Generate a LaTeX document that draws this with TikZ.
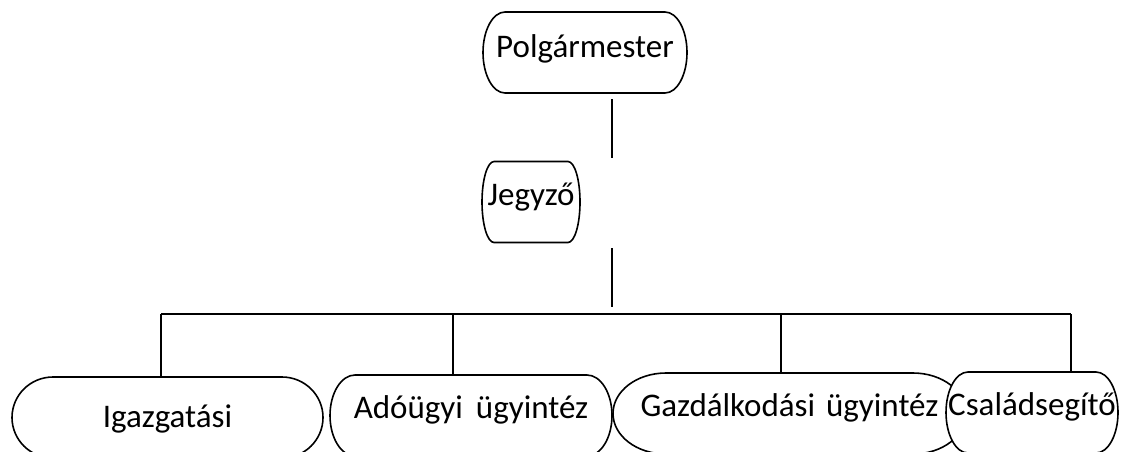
\documentclass[tikz,border=0pt]{standalone}
\usepackage{fontspec}
\setmainfont{Carlito}
\usetikzlibrary{backgrounds}

\newcommand{\ovalframe}[2]{%
\draw [black, line width=1.6pt, fill=white] ([xshift=#2pt]#1.north west) -- ([xshift=-#2pt]#1.north east)
  arc [start angle=90, end angle=-90, x radius=#2pt, y radius=40.5pt]
  -- ([xshift=#2pt]#1.south west)
  arc [start angle=270, end angle=90, x radius=#2pt, y radius=40.5pt] -- cycle;}

\begin{document}
\begin{tikzpicture}[x=1pt, y=1pt, line width=1.6pt]
\tikzstyle{unit}=[font=\fontsize{33}{40}\selectfont, inner sep=0pt, outer sep=0pt, minimum height=81pt, text height=24pt]
\useasboundingbox (0,0) rectangle (1123,-451);
\node [unit, minimum width=204pt, text depth=15pt] (polg) at (585,-52.5) {Polgármester};
\node [unit, minimum width=98pt, text depth=18pt] (jegy) at (531,-202) {Jegyző};
\node [unit, minimum width=311pt, text depth=5pt] (igaz) at (167.5,-417.5) {Igazgatási};
\node [unit, minimum width=282pt, text depth=19pt] (ado) at (471,-415.5) {Adóügyi\hspace{13pt}ügyintéz};
\node [unit, minimum width=353pt, text depth=19pt] (gazd) at (789.5,-413.5) {Gazdálkodási\hspace{11pt}ügyintéz};
\node [unit, minimum width=172pt, text depth=19pt] (csal) at (1032,-412.5) {Családsegítő};
\coordinate (p1) at (612,-99);
\coordinate (p2) at (612,-158);
\coordinate (j1) at (612,-248);
\coordinate (j2) at (612,-307);
\draw (p1) -- (p2);
\draw (j1) -- (j2);
\coordinate (busL) at (161,-314);
\coordinate (busR) at (1071,-314);
\draw (busL) -- (busR);
\foreach \x/\n in {161/igaz, 453/ado, 781/gazd, 1071/csal} {
  \coordinate (top-\n) at (\x,-314);
  \draw (top-\n) -- (top-\n |- \n.north);
}
\begin{scope}[on background layer]
\clip (0,0) rectangle (1123,-451);
\ovalframe{polg}{22}
\ovalframe{jegy}{12}
\ovalframe{igaz}{41}
\ovalframe{ado}{25}
\ovalframe{gazd}{53}
\ovalframe{csal}{22}
\end{scope}
\end{tikzpicture}
\end{document}
